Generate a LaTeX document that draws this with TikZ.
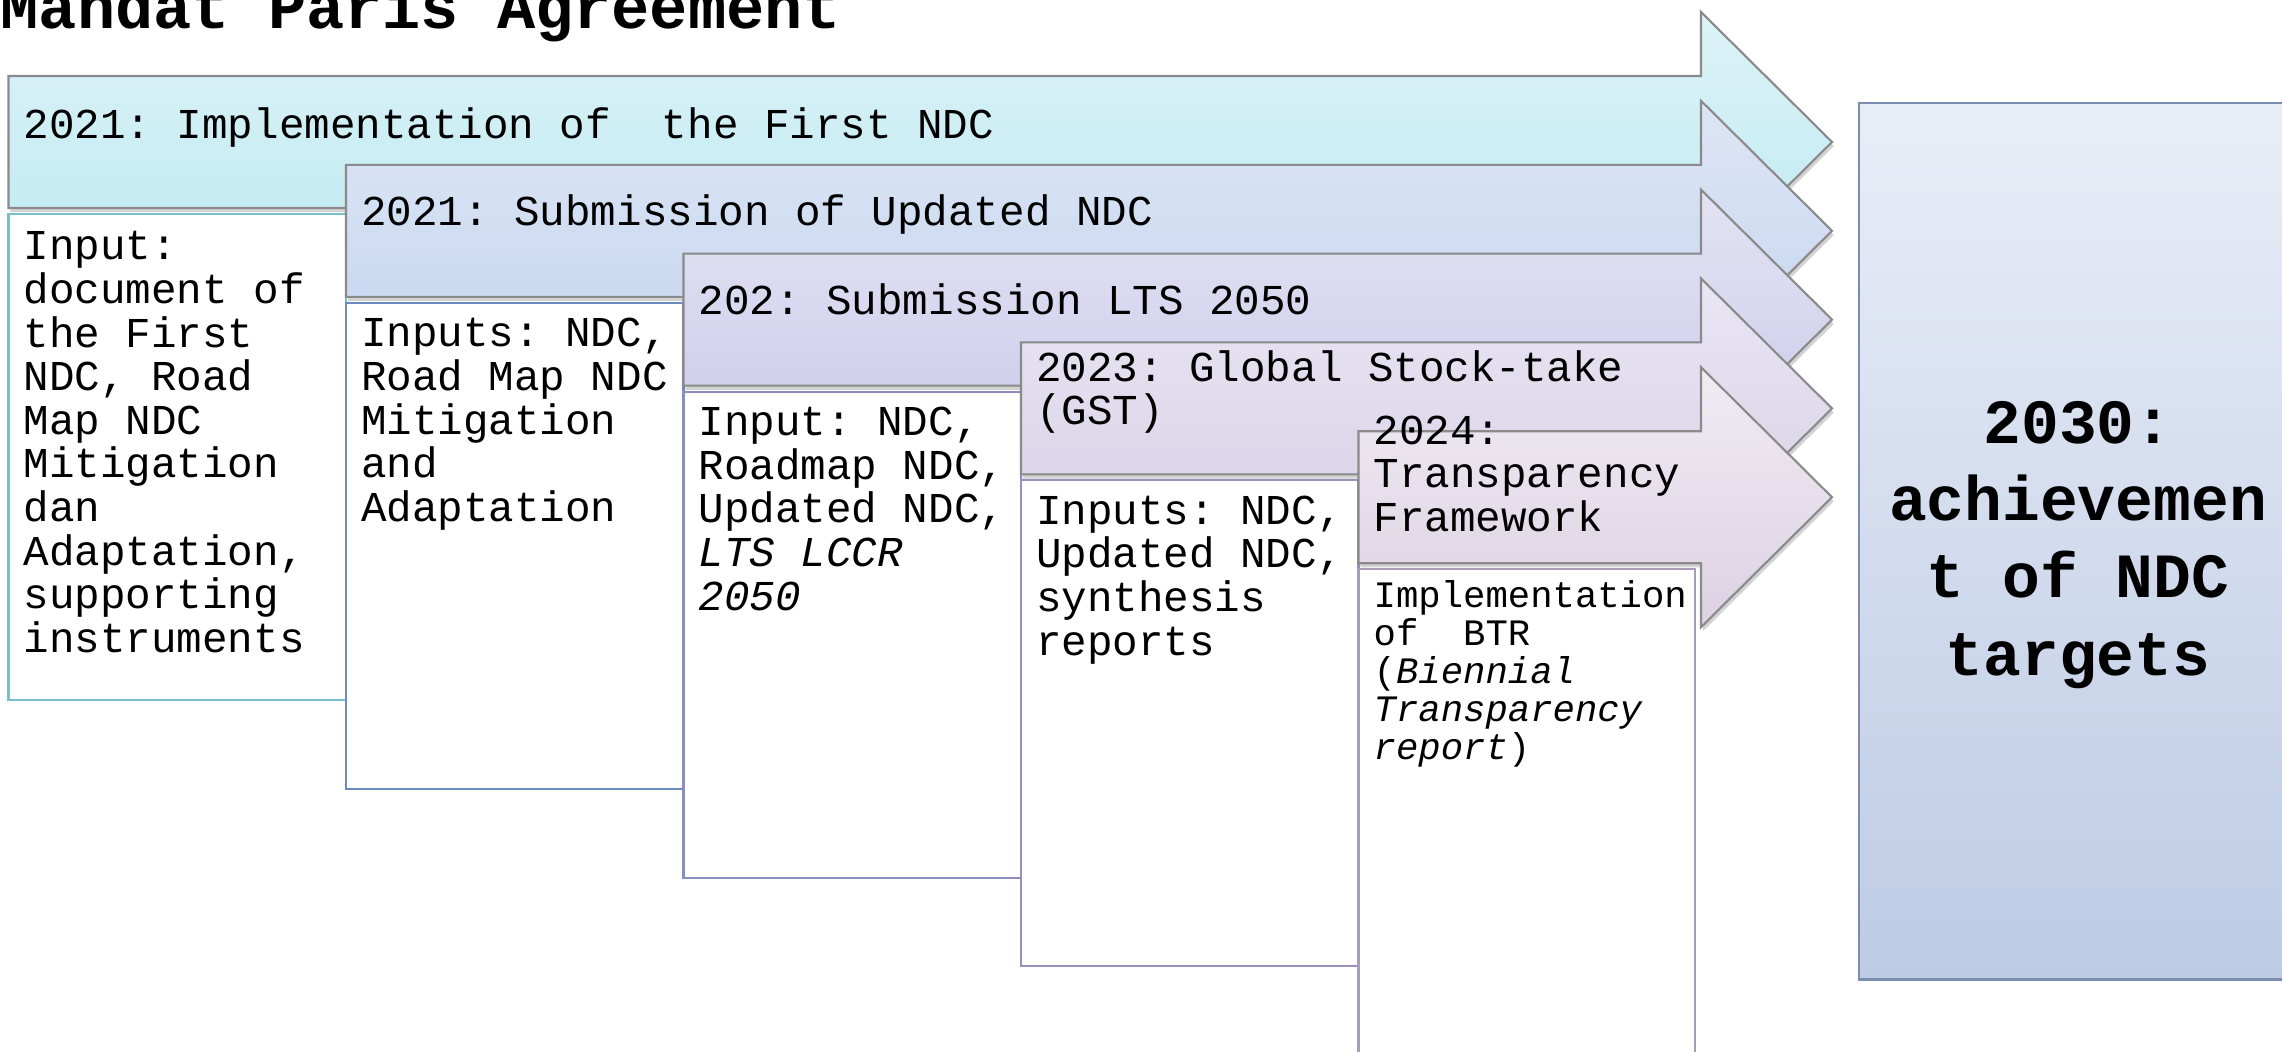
\documentclass[tikz,border=0pt]{standalone}
\usepackage{fontspec}
\setmainfont{Liberation Mono}
\frenchspacing
\usetikzlibrary{shadows}
\definecolor{arrline}{HTML}{8A8A8A}
\definecolor{cyanTop}{HTML}{DDF3F8}
\definecolor{cyanBot}{HTML}{BEE9F1}
\definecolor{blueTop}{HTML}{DEE6F5}
\definecolor{blueBot}{HTML}{C4D5EF}
\definecolor{lavTop}{HTML}{E3E3F4}
\definecolor{lavBot}{HTML}{CBCAEA}
\definecolor{lilTop}{HTML}{EAE6F3}
\definecolor{lilBot}{HTML}{D8D0E7}
\definecolor{mauTop}{HTML}{F0ECF3}
\definecolor{mauBot}{HTML}{DDD1E3}
\definecolor{goalTop}{HTML}{E9EDF7}
\definecolor{goalBot}{HTML}{BDCBE5}
\definecolor{goalLine}{HTML}{7A8DB0}
\definecolor{cyanLine}{HTML}{79C0CF}
\definecolor{blueLine}{HTML}{6A8CBC}
\definecolor{lavLine}{HTML}{8A8DBF}
\definecolor{lilLine}{HTML}{9A8FB8}
\definecolor{mauLine}{HTML}{A89CB6}
\tikzset{
  steparrow/.style={draw=arrline, line width=0.6pt,
    drop shadow={shadow xshift=0.5pt, shadow yshift=-1.2pt, opacity=0.35}},
  inbox/.style={fill=white, line width=0.6pt},
  steptext/.style={anchor=base west, inner sep=0pt, align=left,
    font=\fontsize{12.1}{12.4}\selectfont},
}
\begin{document}
\begin{tikzpicture}[x=0.01cm, y=-0.01cm]
  \useasboundingbox (0,0) rectangle (2282,1051);
  \node[anchor=base west, inner sep=0pt, font=\fontsize{18.1}{20}\selectfont\bfseries] (title) at (0,28) {Mandat Paris Agreement};

  % multi-line texts sit on the baseline of their last line
  \shade[steparrow, top color=cyanTop, bottom color=cyanBot] (8.5,76) -- (1701,76) -- (1701,12) -- (1832,142) -- (1701,272) -- (1701,208) -- (8.5,208) -- cycle;
  \node[steptext] (step1) at (23,138) {2021: Implementation of\ \ the First NDC};
  \draw[inbox, draw=cyanLine] (8.5,214) rectangle (346,700);
  \node[steptext] (input1) at (23,652.3) {Input:\\document of\\the First\\NDC, Road\\Map NDC\\Mitigation\\dan\\Adaptation,\\supporting\\instruments};

  \shade[steparrow, top color=blueTop, bottom color=blueBot] (346,164.8) -- (1701,164.8) -- (1701,100.8) -- (1832,230.8) -- (1701,360.8) -- (1701,296.8) -- (346,296.8) -- cycle;
  \node[steptext] (step2) at (360.5,225) {2021: Submission of Updated NDC};
  \draw[inbox, draw=blueLine] (346,302.8) rectangle (683.5,788.8);
  \node[steptext] (input2) at (360.5,521.3) {Inputs: NDC,\\Road Map NDC\\Mitigation\\and\\Adaptation};

  \shade[steparrow, top color=lavTop, bottom color=lavBot] (683.5,253.6) -- (1701,253.6) -- (1701,189.6) -- (1832,319.6) -- (1701,449.6) -- (1701,385.6) -- (683.5,385.6) -- cycle;
  \node[steptext] (step3) at (698,314) {202: Submission LTS 2050};
  \draw[inbox, draw=lavLine] (683.5,391.6) rectangle (1021,877.6);
  \node[steptext] (input3) at (698,610.1) {Input: NDC,\\Roadmap NDC,\\Updated NDC,\\\textit{LTS LCCR}\\\textit{2050}};

  \shade[steparrow, top color=lilTop, bottom color=lilBot] (1021,342.4) -- (1701,342.4) -- (1701,278.4) -- (1832,408.4) -- (1701,538.4) -- (1701,474.4) -- (1021,474.4) -- cycle;
  \node[steptext] (step4) at (1035.5,424.7) {2023: Global Stock-take\\(GST)};
  \draw[inbox, draw=lilLine] (1021,480.4) rectangle (1358.5,966.4);
  \node[steptext] (input4) at (1035.5,655.1) {Inputs: NDC,\\Updated NDC,\\synthesis\\reports};

  \shade[steparrow, top color=mauTop, bottom color=mauBot] (1358.5,431.2) -- (1701,431.2) -- (1701,367.2) -- (1832,497.2) -- (1701,627.2) -- (1701,563.2) -- (1358.5,563.2) -- cycle;
  \node[steptext] (step5) at (1373,531.4) {2024:\\Transparency\\Framework};
  \draw[inbox, draw=mauLine] (1358.5,569.2) rectangle (1695,1055.2);
  \node[steptext, font=\fontsize{10.6}{10.8}\selectfont] (input5) at (1373,759) {Implementation\\of\ \ BTR\\(\textit{Biennial}\\\textit{Transparency}\\\textit{report})};

  \shade[top color=goalTop, bottom color=goalBot, draw=goalLine, line width=0.6pt] (1858.6,103) rectangle (2300,979.5);
  \node[anchor=base, inner sep=0pt, align=center, font=\fontsize{17.9}{21.9}\selectfont\bfseries] (goal) at (2078,675) {2030:\\achievemen\\t of NDC\\targets};
\end{tikzpicture}
\end{document}
